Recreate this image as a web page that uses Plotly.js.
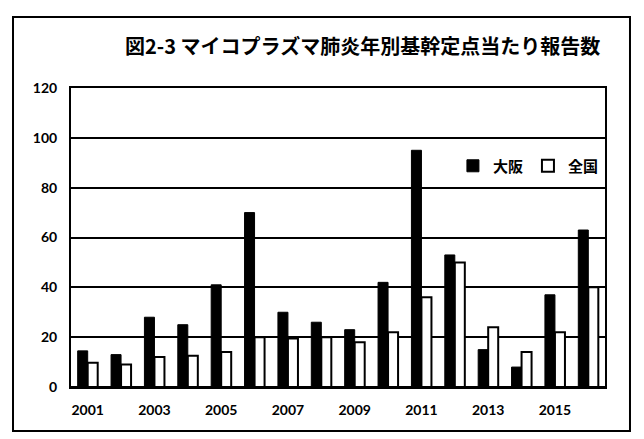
<!DOCTYPE html>
<html>
<head>
<meta charset="utf-8">
<script src="https://cdn.plot.ly/plotly-3.0.1.min.js"></script>
<style>
  html, body { margin: 0; padding: 0; background: #fff; }
  #chart { width: 644px; height: 439px; }
</style>
</head>
<body>
<div id="chart"></div>
<script>
// Mycoplasma pneumonia reports per sentinel site, by year
const years = [2001, 2002, 2003, 2004, 2005, 2006, 2007, 2008,
               2009, 2010, 2011, 2012, 2013, 2014, 2015, 2016];
const osaka = [14.5, 13, 28, 25, 41, 70, 30, 26, 23, 42, 95, 53, 15, 8, 37, 63];
const national = [9.7, 9, 12, 12.5, 14, 20, 19.5, 20, 18, 22, 36, 50, 24, 14, 22, 40];
const yearTicks = [2001, 2003, 2005, 2007, 2009, 2011, 2013, 2015];
const valueTicks = [0, 20, 40, 60, 80, 100, 120];

const titleText = '図2-3 マイコプラズマ肺炎年別基幹定点当たり報告数';
const labelOsaka = '大阪';
const labelNational = '全国';

const tickFont = { family: 'Lato, "Liberation Sans", sans-serif', size: 14, weight: 'bold', color: '#000' };

const traces = [
  {
    type: 'bar', name: labelOsaka, x: years, y: osaka,
    marker: { color: '#000', line: { color: '#000', width: 1 } }
  },
  {
    type: 'bar', name: labelNational, x: years, y: national,
    marker: { color: '#fff', line: { color: '#000', width: 2 } }
  }
];

const layout = {
  width: 644, height: 439,
  margin: { l: 71, r: 39, t: 88, b: 52 },
  paper_bgcolor: '#fff', plot_bgcolor: '#fff',
  barmode: 'group', bargap: 0.4, bargroupgap: 0,
  title: {
    text: titleText,
    font: { family: '"Noto Sans CJK JP", sans-serif', size: 20, weight: 'bold', color: '#000' },
    xref: 'container', x: 0.563, xanchor: 'center',
    yref: 'container', y: 0.893, yanchor: 'middle'
  },
  xaxis: {
    range: [2000.5, 2016.5],
    tickmode: 'array', tickvals: yearTicks, ticktext: yearTicks.map(String),
    tickfont: tickFont, ticks: '', ticklabelstandoff: 9,
    showgrid: false, showline: true, linecolor: '#000', linewidth: 2, mirror: true,
    fixedrange: true
  },
  yaxis: {
    range: [0, 120],
    tickmode: 'array', tickvals: valueTicks,
    tickfont: tickFont, ticks: '', ticklabelstandoff: 9,
    showgrid: true, gridcolor: '#000', gridwidth: 2,
    zeroline: true, zerolinecolor: '#000', zerolinewidth: 2,
    showline: true, linecolor: '#000', linewidth: 2, mirror: true,
    fixedrange: true
  },
  showlegend: true,
  legend: {
    orientation: 'h',
    xref: 'paper', x: 0.998, xanchor: 'right',
    yref: 'paper', y: 0.739, yanchor: 'middle',
    bgcolor: 'rgba(0,0,0,0)', borderwidth: 0,
    itemwidth: 30, traceorder: 'normal',
    font: { family: '"Noto Sans CJK JP", sans-serif', size: 15, weight: 'bold', color: '#000' }
  },
  shapes: [
    {
      type: 'rect', xref: 'paper', yref: 'paper',
      x0: -0.1086, x1: 1.0468, y0: -0.147, y1: 1.2375,
      line: { color: '#000', width: 2 }, fillcolor: 'rgba(0,0,0,0)'
    }
  ]
};

Plotly.newPlot('chart', traces, layout, { staticPlot: true, displayModeBar: false });
</script>
</body>
</html>
